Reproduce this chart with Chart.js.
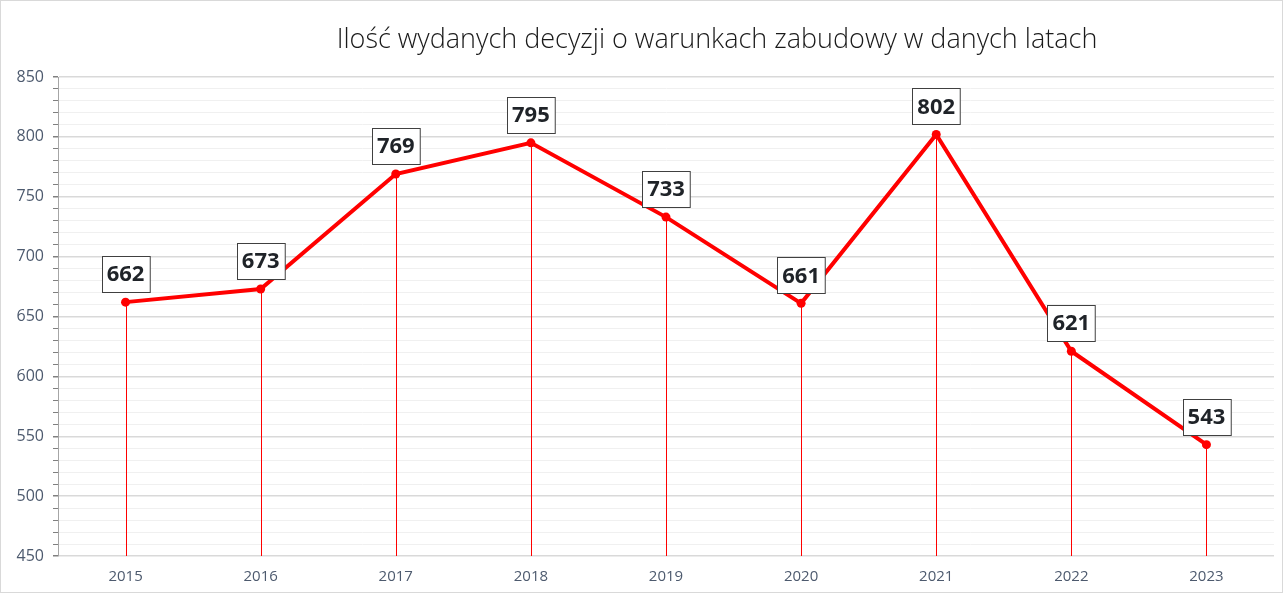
<!DOCTYPE html>
<html>
<head>
<meta charset="utf-8">
<script src="https://cdn.jsdelivr.net/npm/chart.js@4"></script>
<style>
  html, body { margin: 0; padding: 0; background: #fff; }
  #wrap { position: relative; width: 1283px; height: 593px; box-sizing: border-box; border: 1px solid #d9d9d9; }
  canvas { display: block; }
</style>
</head>
<body>
<div id="wrap"><canvas id="c"></canvas></div>
<script>
// Data
const years = ['2015', '2016', '2017', '2018', '2019', '2020', '2021', '2022', '2023']
const decisions = [662, 673, 769, 795, 733, 661, 802, 621, 543]
const titleText = 'Ilość wydanych decyzji o warunkach zabudowy w danych latach'

const axisColor = '#4d5a6e'
const red = '#ff0000'

// Drop lines, value boxes and title
const decorPlugin = {
  id: 'decor',
  beforeDatasetsDraw(chart) {
    const ctx = chart.ctx
    const meta = chart.getDatasetMeta(0)
    const bottom = chart.chartArea.bottom
    ctx.save()
    ctx.strokeStyle = red
    ctx.lineWidth = 1
    meta.data.forEach(pt => {
      const x = Math.round(pt.x) + 0.5
      ctx.beginPath()
      ctx.moveTo(x, pt.y)
      ctx.lineTo(x, bottom)
      ctx.stroke()
    })
    ctx.restore()
  },
  afterDatasetsDraw(chart) {
    const ctx = chart.ctx
    const meta = chart.getDatasetMeta(0)
    ctx.save()
    ctx.font = 'bold 22px "Open Sans"'
    ctx.textAlign = 'center'
    ctx.textBaseline = 'middle'
    meta.data.forEach((pt, i) => {
      const txt = String(decisions[i])
      const w = ctx.measureText(txt).width + 10
      const h = 36
      const cx = pt.x
      const cy = pt.y - 28
      const x0 = Math.round(cx - w / 2) + 0.5
      const y0 = Math.round(cy - h / 2) + 0.5
      ctx.fillStyle = '#fff'
      ctx.fillRect(x0, y0, w, h)
      ctx.strokeStyle = '#404040'
      ctx.lineWidth = 1
      ctx.strokeRect(x0, y0, w, h)
      ctx.fillStyle = '#1f2328'
      ctx.fillText(txt, cx, cy + 1)
    })
    ctx.restore()

    // title
    ctx.save()
    ctx.font = '300 100px "Open Sans"'
    const scale = 762 / ctx.measureText(titleText).width
    ctx.font = '300 ' + (100 * scale).toFixed(1) + 'px "Open Sans"'
    ctx.fillStyle = '#1a1a1a'
    ctx.textAlign = 'center'
    ctx.textBaseline = 'middle'
    ctx.fillText(titleText, 716, 39)
    ctx.restore()
  }
}

const chart = new Chart(document.getElementById('c'), {
  type: 'line',
  data: {
    labels: years,
    datasets: [{
      data: decisions,
      borderColor: red,
      backgroundColor: red,
      borderWidth: 4,
      pointRadius: 4.5,
      pointHoverRadius: 4.5,
      pointBackgroundColor: red,
      pointBorderWidth: 0,
      tension: 0,
    }]
  },
  options: {
    responsive: true,
    maintainAspectRatio: false,
    animation: false,
    layout: { padding: { top: 76, left: 7, right: 8, bottom: 6 } },
    plugins: {
      legend: { display: false },
      title: { display: false },
      tooltip: { enabled: false },
    },
    scales: {
      x: {
        offset: true,
        grid: { display: false, drawTicks: false },
        border: { display: false },
        ticks: { color: axisColor, font: { family: '"Open Sans"', size: 15 }, padding: 12 },
        afterFit: s => { s.height = 30 },
      },
      y: {
        min: 450,
        max: 850,
        border: { display: true, color: '#a6a6a6', width: 1 },
        grid: {
          color: c => (c.tick.value % 50 === 0 ? '#d9d9d9' : '#f0f0f0'),
          lineWidth: c => (c.tick.value % 50 === 0 ? 1.5 : 1),
          tickColor: '#808080',
          tickLength: 5,
        },
        ticks: {
          stepSize: 10,
          autoSkip: false,
          color: axisColor,
          font: { family: '"Open Sans"', size: 16 },
          padding: 9,
          callback: v => (v % 50 === 0 ? v : ''),
        },
        afterFit: s => { s.width = 50 },
      }
    }
  },
  plugins: [decorPlugin]
})
</script>
</body>
</html>
